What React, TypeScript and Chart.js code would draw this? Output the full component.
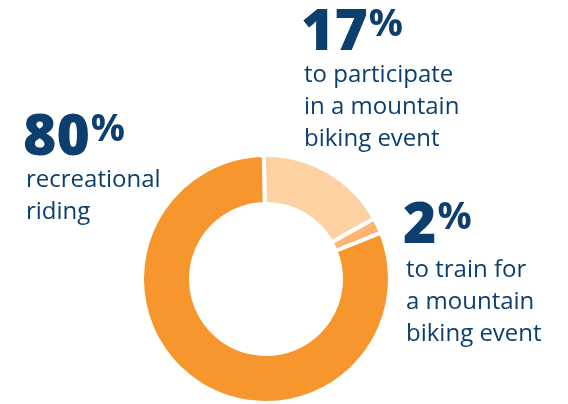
import React, { useEffect, useRef } from "react";
import { Chart, registerables } from "chart.js";

Chart.register(...registerables);

const categories = [
  "to participate in a mountain biking event",
  "to train for a mountain biking event",
  "recreational riding",
];
const values = [17, 2, 80];
const sliceColors = ["#FDD1A2", "#FDB672", "#F7962C"];
const percentLabels = ["17", "2", "80"];
const labelLines = [
  ["to participate", "in a mountain", "biking event"],
  ["to train for", "a mountain", "biking event"],
  ["recreational", "riding"],
];
// label anchor: [x, numberBaseline, firstLineBaseline]
const labelAnchors = [
  [301, 50, 82],
  [403, 243, 277],
  [23, 155, 186.5],
];

const NAVY = "#0D3F6E";

const labelPlugin = {
  id: "calloutLabels",
  afterDraw(chart: any) {
    const ctx = chart.ctx as CanvasRenderingContext2D;
    ctx.save();
    ctx.fillStyle = NAVY;
    ctx.textBaseline = "alphabetic";
    ctx.textAlign = "left";
    labelAnchors.forEach((a, i) => {
      const [x, nb, lb] = a;
      ctx.font = "800 57px 'Open Sans'";
      const num = percentLabels[i];
      ctx.fillText(num, x, nb);
      const w = ctx.measureText(num).width;
      ctx.font = "bold 38px 'Open Sans'";
      ctx.fillText("%", x + w + 1, nb - 14);
      ctx.font = "24px 'Open Sans'";
      labelLines[i].forEach((line, j) => {
        ctx.fillText(line, x + 3, lb + j * 32);
      });
    });
    ctx.restore();
  },
};

export default function App() {
  const ref = useRef<HTMLCanvasElement | null>(null);
  useEffect(() => {
    if (!ref.current) return;
    const chart = new Chart(ref.current, {
      type: "doughnut",
      data: {
        labels: categories,
        datasets: [
          {
            data: values,
            backgroundColor: sliceColors,
            borderColor: "#ffffff",
            borderWidth: 4,
            borderAlign: "center",
            hoverOffset: 0,
          },
        ],
      },
      options: {
        responsive: false,
        animation: false,
        radius: 124,
        cutout: "60.5%",
        rotation: -1,
        layout: { padding: { left: 141, right: 177, top: 154, bottom: 0 } },
        plugins: {
          legend: { display: false },
          tooltip: { enabled: false },
        },
      },
      plugins: [labelPlugin],
    });
    return () => chart.destroy();
  }, []);
  return (
    <div style={{ position: "fixed", left: 0, top: 0, width: 568, height: 404, background: "#fff" }}>
      <canvas ref={ref} width={568} height={404} style={{ display: "block" }} />
    </div>
  );
}
